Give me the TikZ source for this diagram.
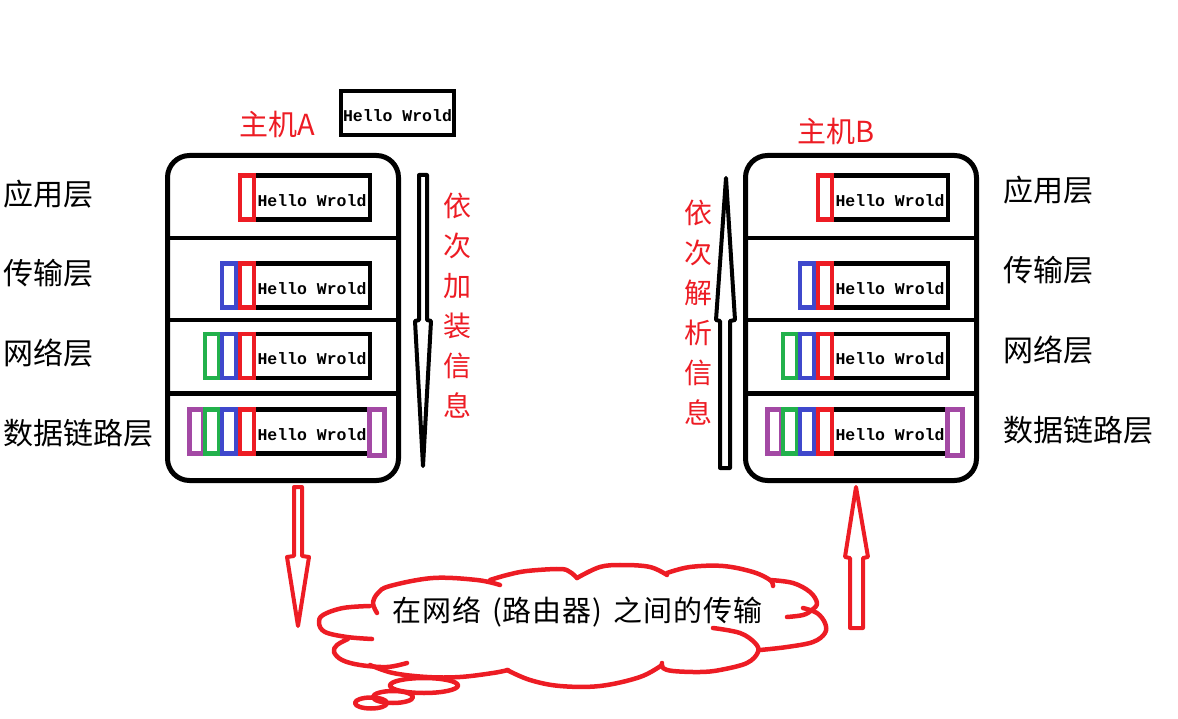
\documentclass[tikz,border=0pt]{standalone}
\usepackage{fontspec}
\newfontfamily\cjk{Noto Sans CJK SC}
\newfontfamily\hwfont{Liberation Mono}
\usetikzlibrary{calc}
\definecolor{pred}{RGB}{237,28,36}
\definecolor{pblue}{RGB}{63,72,204}
\definecolor{pgreen}{RGB}{34,177,76}
\definecolor{ppurple}{RGB}{163,73,164}
\newcommand\cslot[1]{\makebox[30pt]{#1}}
\newcommand\hoststack{%
  \node[hostbox] (host) at (283,318) {};
  \draw[divline] ([yshift=-85pt]host.north west) -- ([yshift=-85pt]host.north east);
  \draw[divline] ([yshift=-167pt]host.north west) -- ([yshift=-167pt]host.north east);
  \draw[divline] ([yshift=-240.5pt]host.north west) -- ([yshift=-240.5pt]host.north east);
  % application layer
  \node[databox] (d1) at (312,197.5) {Hello Wrold};
  \node[hdr=pred] (d1r) at (247,197.5) {};
  % transport layer
  \node[databox] (d2) at (312,285.5) {Hello Wrold};
  \node[hdr=pblue] (d2b) at (229,285.5) {};
  \node[hdr=pred] (d2r) at (247,285.5) {};
  % network layer
  \node[databox] (d3) at (312,356) {Hello Wrold};
  \node[hdr=pgreen] (d3g) at (212,356) {};
  \node[hdr=pblue] (d3b) at (229,356) {};
  \node[hdr=pred] (d3r) at (247,356) {};
  % data link layer
  \node[databox] (d4) at (312,431.5) {Hello Wrold};
  \node[hdr=ppurple] (d4p) at (196.5,431.5) {};
  \node[hdr=pgreen] (d4g) at (212,431.5) {};
  \node[hdr=pblue] (d4b) at (229,431.5) {};
  \node[hdr=pred] (d4r) at (247,431.5) {};
  \node[hdr=ppurple, minimum width=15pt, minimum height=46pt] (d4t) at (377,432.5) {};
}
\begin{document}
\begin{tikzpicture}[x=1pt,y=-1pt,
  hostbox/.style={draw, line width=5pt, rounded corners=22pt, minimum width=231pt, minimum height=325pt, inner sep=0pt},
  divline/.style={line width=4.5pt},
  databox/.style={draw, line width=4.5pt, minimum width=116pt, minimum height=44pt, inner sep=0pt,
    font=\hwfont\bfseries\fontsize{16.5}{18}\selectfont, text height=17.5pt, text depth=0pt},
  hdr/.style={draw=#1, line width=4.5pt, minimum width=14pt, minimum height=44pt, inner sep=0pt},
  layer/.style={anchor=west, inner sep=0pt, font=\cjk\fontsize{30}{30}\selectfont},
  title/.style={inner sep=0pt, text=pred, font=\cjk\fontsize{29}{29}\selectfont},
  vtext/.style={inner sep=0pt, text=pred, align=center, font=\cjk\fontsize{28}{40}\selectfont},
  blockarrow/.style={line width=4pt, line join=round},
  cloudline/.style={draw=pred, line width=4.5pt, line cap=round, line join=round}
]
\useasboundingbox (0,0) rectangle (1178,719);

% message on top
\node[databox, minimum width=113pt] (msg) at (397.5,113) {Hello Wrold};

% host A and host B
\begin{scope}[name prefix=A-]
  \hoststack
\end{scope}
\begin{scope}[xshift=578pt, name prefix=B-]
  \hoststack
\end{scope}

% titles
\node[title] (tA) at (277,124) {主机A};
\node[title] (tB) at (836,131) {主机B};

% layer labels
\node[layer] (LA1) at (3,194.5) {应用层};
\node[layer] (LA2) at (3,273.5) {传输层};
\node[layer] (LA3) at (3,353.5) {网络层};
\node[layer] (LA4) at (3,433.5) {数据链路层};
\node[layer] (LB1) at (1003,190.5) {应用层};
\node[layer] (LB2) at (1003,270.5) {传输层};
\node[layer] (LB3) at (1003,350.5) {网络层};
\node[layer] (LB4) at (1003,430.5) {数据链路层};

% vertical red texts
\node[vtext] (vA) at (457,305.5) {依\\次\\加\\装\\信\\息};
\node[vtext] (vB) at (698,312.5) {依\\次\\解\\析\\信\\息};

% black thin arrows
\draw[blockarrow] (419,175) -- (427,175) -- (427,320) -- (431,321) -- (423,466) -- (415,321) -- (419,320) -- cycle;
\draw[blockarrow] (720,468) -- (730,468) -- (730,321) -- (735,320) -- (726,178) -- (716,320) -- (720,321) -- cycle;

% red hollow arrows
\draw[blockarrow, pred] (294,487) -- (302,487) -- (302,556) -- (309,557) -- (298,626) -- (287,557) -- (294,556) -- cycle;
\draw[blockarrow, pred] (850,628) -- (863,628) -- (863,558) -- (868,557) -- (856,487) -- (845,557) -- (850,558) -- cycle;

% cloud
\draw[cloudline] plot[smooth, tension=0.6] coordinates {(370,606) (343,608) (323,615) (319,623) (325,632) (347,637) (372,639)};
\draw[cloudline] plot[smooth, tension=0.6] coordinates {(377,613) (373,603) (378,593) (390,586) (433,578) (477,580) (500,585)};
\draw[cloudline] plot[smooth, tension=0.6] coordinates {(490,580) (507,575) (527,571) (560,569) (570,572) (577,578)};
\draw[cloudline] plot[smooth, tension=0.6] coordinates {(577,578) (600,567) (623,565) (650,567) (667,575)};
\draw[cloudline] plot[smooth, tension=0.6] coordinates {(667,573) (690,567) (723,566) (753,572) (770,580) (773,586)};
\draw[cloudline] plot[smooth, tension=0.6] coordinates {(770,580) (793,583) (810,592) (817,603) (812,610) (803,615) (787,617)};
\draw[cloudline] plot[smooth, tension=0.6] coordinates {(803,608) (817,613) (825,623) (825,633) (813,642) (787,647) (760,650)};
\draw[cloudline] plot[smooth, tension=0.6] coordinates {(713,628) (740,633) (755,643) (758,652) (747,663) (720,670) (700,672) (673,671) (663,668) (662,663)};
\draw[cloudline] plot[smooth, tension=0.6] coordinates {(662,665) (640,677) (600,686) (560,686) (530,680) (507,670)};
\draw[cloudline] plot[smooth, tension=0.6] coordinates {(348,639) (337,645) (334,652) (342,660) (360,665) (387,667) (407,663)};
\draw[cloudline] plot[smooth, tension=0.6] coordinates {(370,665) (393,673) (427,677) (460,677) (493,673) (508,670)};
\draw[cloudline] (424,685.5) ellipse [x radius=34, y radius=7.5];
\draw[cloudline] (393,697) ellipse [x radius=20, y radius=6];
\draw[cloudline] (371,703) ellipse [x radius=16, y radius=5.5];
\node[inner sep=0pt, font=\cjk\fontsize{29}{29}\selectfont] (net) at (577.5,612)
  {\cslot{在}\cslot{网}\cslot{络}\makebox[20.5pt][r]{(}\cslot{路}\cslot{由}\cslot{器}\makebox[20.5pt][l]{)}\cslot{之}\cslot{间}\cslot{的}\cslot{传}\cslot{输}};
\end{tikzpicture}
\end{document}
